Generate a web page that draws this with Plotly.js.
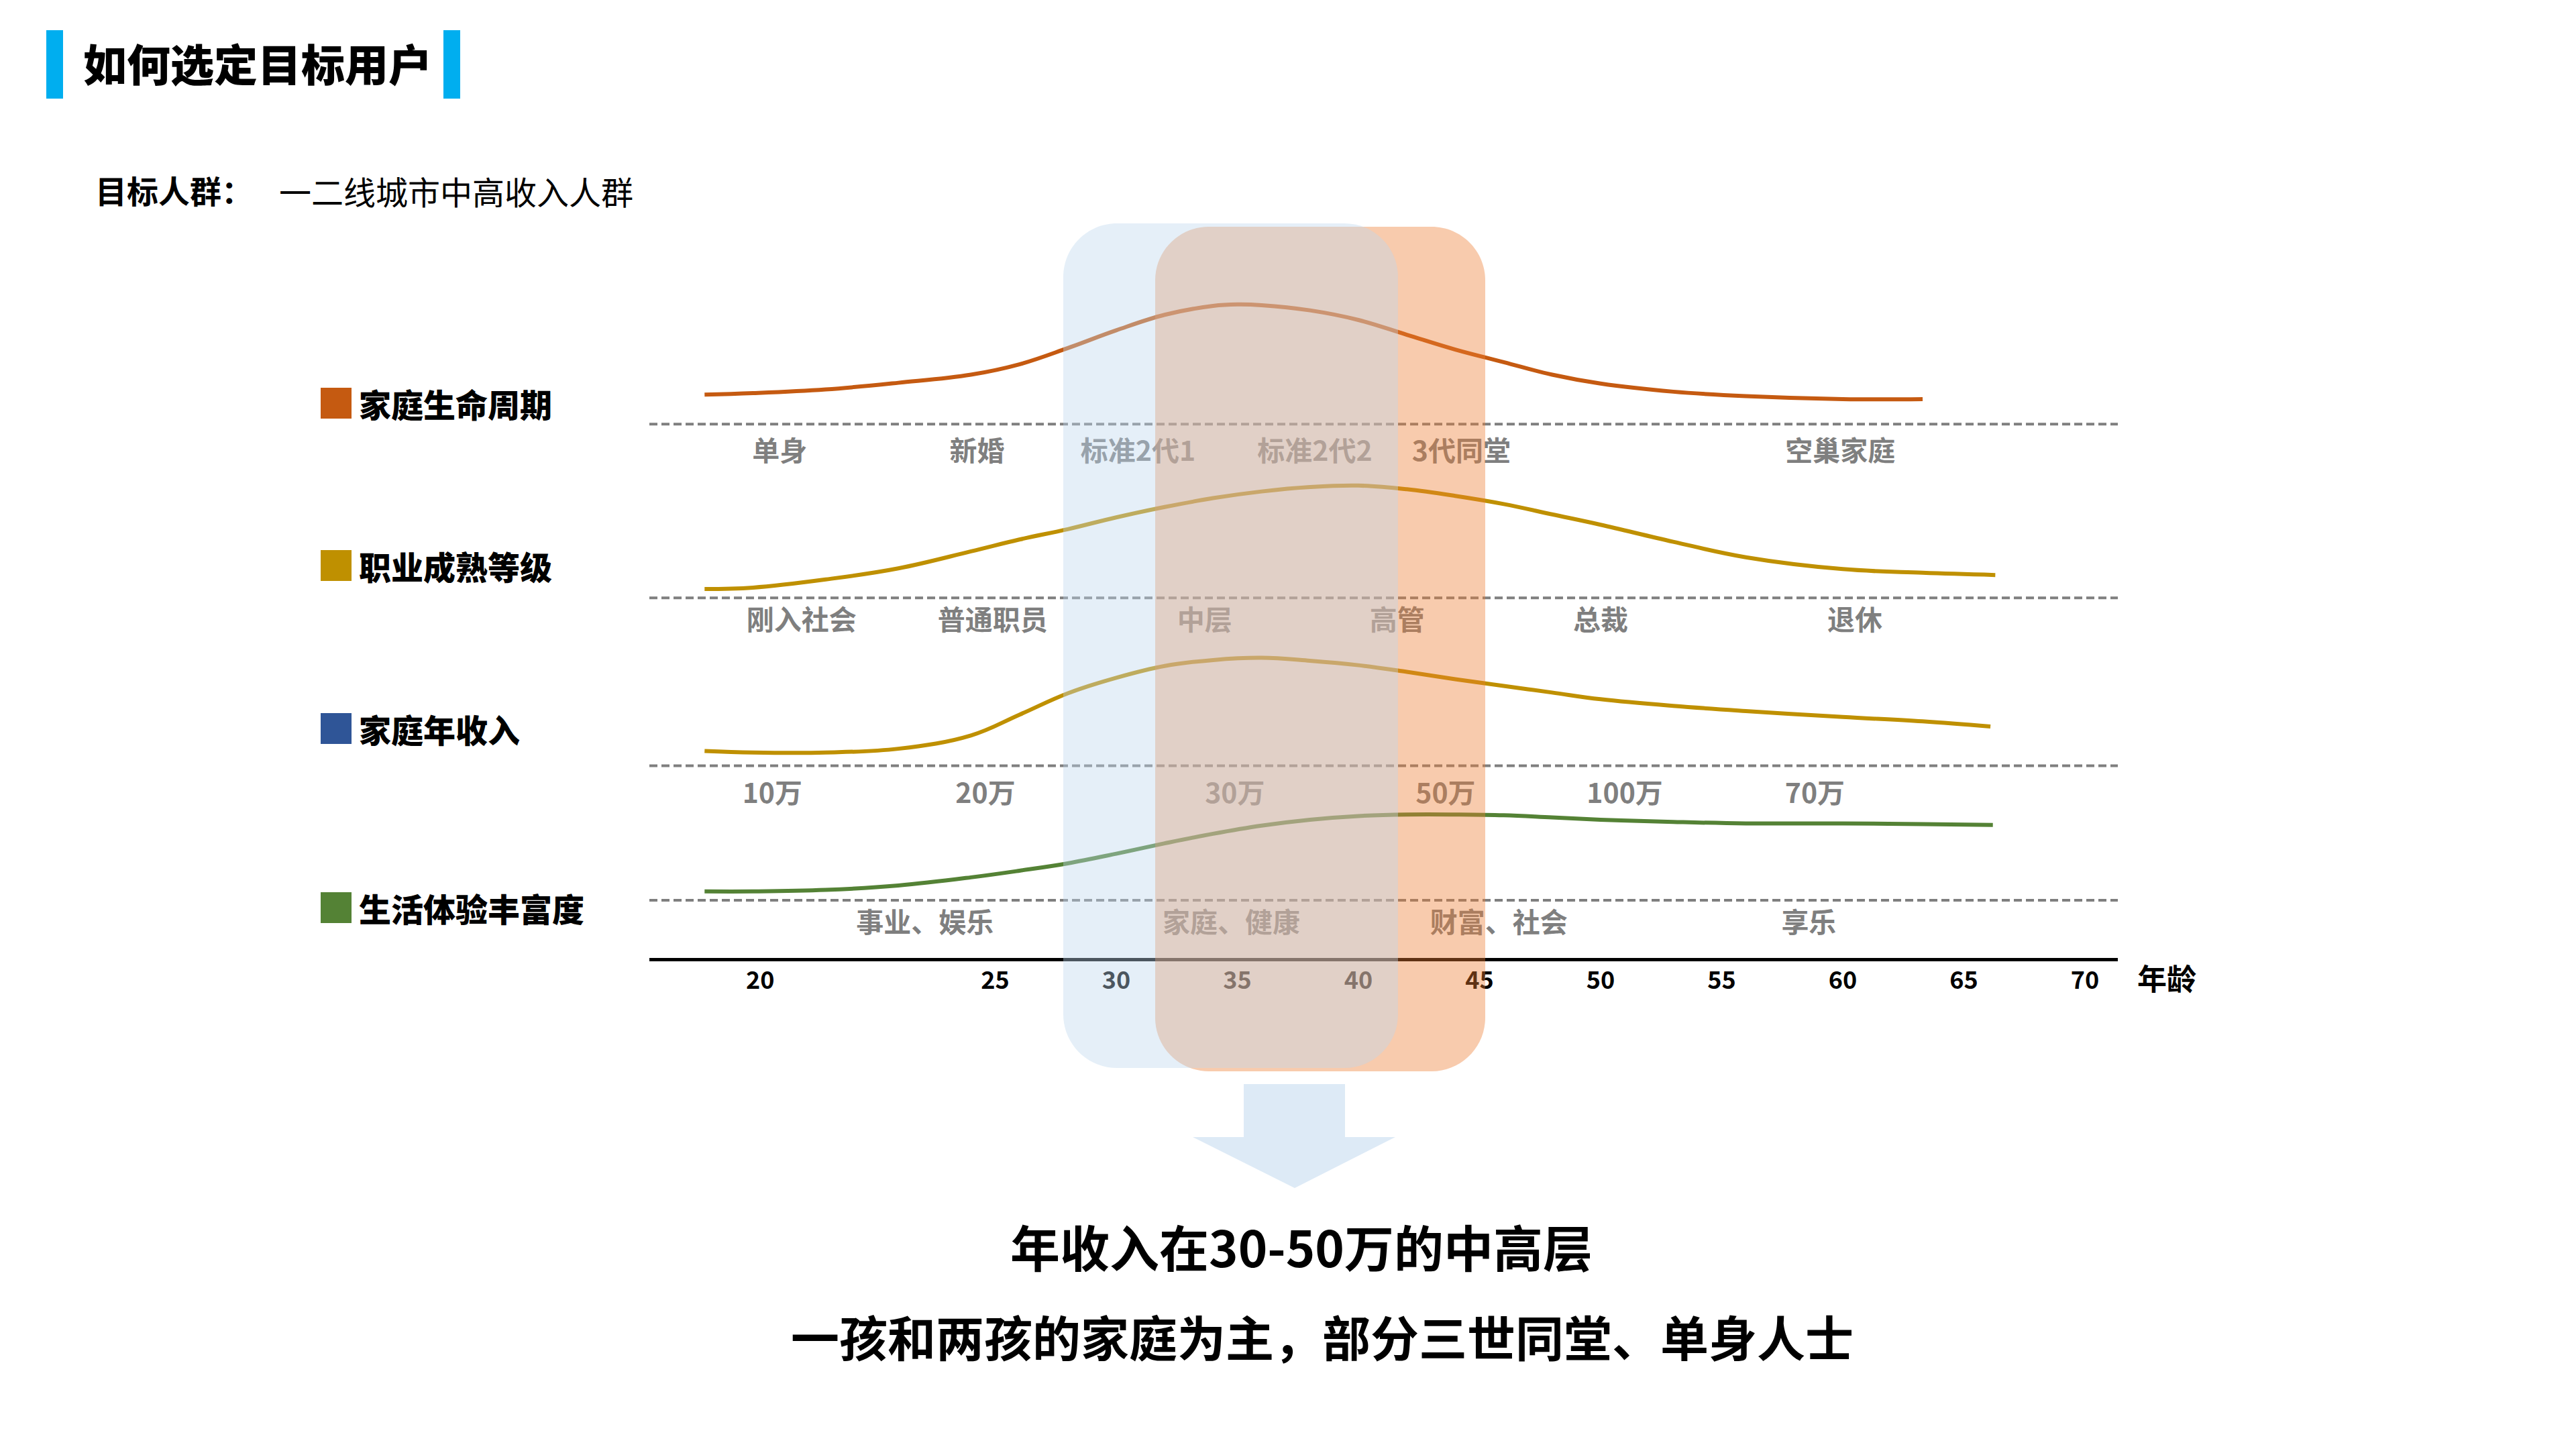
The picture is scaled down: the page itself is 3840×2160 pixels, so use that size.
<!DOCTYPE html>
<html>
<head>
<meta charset="utf-8">
<script src="https://cdn.plot.ly/plotly-3.0.1.min.js"></script>
<style>html,body{margin:0;padding:0;background:#fff;}#chart{width:3840px;height:2160px;}</style>
</head>
<body>
<div id="chart"></div>
<script>
// ---------------- data ----------------
const seriesNames = ['家庭生命周期', '职业成熟等级', '家庭年收入', '生活体验丰富度'];

const lifeCycleAge = [13,15,18,21,24,26,28,30,32,34,35,36,38,40,42,44,46,48,50,53,56,60,63.3];
const lifeCycleVal = [76.2,76.4,76.9,77.8,78.9,80.3,82.5,84.9,87.0,88.2,88.4,88.3,87.6,86.3,84.3,82.3,80.6,78.9,77.7,76.6,76.0,75.6,75.6];

const careerAge = [13,15,18,21,24,26,28,30,32,34,36,38,40,42,44,46,48,50,53,56,60,63.3,66.3];
const careerVal = [49.9,50.1,51.2,52.7,55.0,56.6,58.0,59.6,61.0,62.2,63.1,63.7,63.9,63.4,62.5,61.4,60.0,58.6,56.3,54.2,52.6,52.1,51.8];

const incomeAge = [13,15,18,21,24,26,28,30,32,34,36,38,40,42,44,46,48,50,53,56,60,63.3,66.1];
const incomeVal = [28.0,27.8,27.8,28.3,30.1,32.9,35.8,37.9,39.5,40.3,40.6,40.2,39.6,38.7,37.7,36.8,35.9,35.0,34.1,33.4,32.6,32.0,31.3];

const experienceAge = [13,15,18,21,24,26,28,30,32,34,36,38,40,42,44,46,48,50,53,56,60,63.3,66.2];
const experienceVal = [9.0,9.0,9.2,9.8,10.9,11.8,12.8,14.1,15.5,16.8,17.9,18.7,19.2,19.4,19.4,19.3,19.0,18.7,18.4,18.2,18.2,18.1,18.0];

// stage labels along the age axis
const lifeStageLabels = ['单身','新婚','标准2代1','标准2代2','3代同堂','空巢家庭'];
const lifeStageAge    = [16.1, 24.25, 30.9, 38.2, 44.25, 59.9];
const careerLabels    = ['刚入社会','普通职员','中层','高管','总裁','退休'];
const careerLabelAge  = [17.0, 24.9, 33.65, 41.6, 50.0, 60.5];
const incomeLabels    = ['10万','20万','30万','50万','100万','70万'];
const incomeLabelAge  = [15.8, 24.6, 34.9, 43.6, 51.0, 58.85];
const experienceLabels   = ['事业、娱乐','家庭、健康','财富、社会','享乐'];
const experienceLabelAge = [22.1, 34.75, 45.8, 58.6];
const rowLevels = [68.2, 45.3, 21.9, 4.4];       // label rows
const separatorLevels = [72.2, 48.7, 26.0, 7.8];   // dashed separators

// x axis ticks
const tickPositions = [15.3, 25, 30, 35, 40, 45, 50, 55, 60, 65, 70];
const tickLabels    = ['20','25','30','35','40','45','50','55','60','65','70'];

// ---------------- layout helpers ----------------
const W = 3840, H = 2160, ML = 968, MR = 683, MT = 326, MB = 732;
const PW = W - ML - MR, PH = H - MT - MB;
const px = x => (x - ML) / PW;
const py = y => (H - MB - y) / PH;
const FONT = '"Noto Sans CJK SC", "Noto Sans", sans-serif';

function roundRect(x0, y0, x1, y1, r) {
  const k = 0.5523 * r;
  const P = (x, y) => px(x).toFixed(5) + ',' + py(y).toFixed(5);
  return 'M' + P(x0 + r, y0) + ' L' + P(x1 - r, y0) +
    ' C' + P(x1 - r + k, y0) + ' ' + P(x1, y0 + r - k) + ' ' + P(x1, y0 + r) +
    ' L' + P(x1, y1 - r) +
    ' C' + P(x1, y1 - r + k) + ' ' + P(x1 - r + k, y1) + ' ' + P(x1 - r, y1) +
    ' L' + P(x0 + r, y1) +
    ' C' + P(x0 + r - k, y1) + ' ' + P(x0, y1 - r + k) + ' ' + P(x0, y1 - r) +
    ' L' + P(x0, y0 + r) +
    ' C' + P(x0, y0 + r - k) + ' ' + P(x0 + r - k, y0) + ' ' + P(x0 + r, y0) + ' Z';
}
function polyPath(pts) {
  return pts.map((p, i) => (i ? 'L' : 'M') + px(p[0]).toFixed(5) + ',' + py(p[1]).toFixed(5)).join(' ') + ' Z';
}

// ---------------- traces ----------------
const lineColors = ['#c55a11', '#bf9000', '#bf9000', '#548235'];
const squareColors = ['#c55a11', '#bf9000', '#2f5597', '#548235'];
const seriesX = [lifeCycleAge, careerAge, incomeAge, experienceAge];
const seriesY = [lifeCycleVal, careerVal, incomeVal, experienceVal];

const traces = seriesX.map((xs, i) => ({
  type: 'scatter', mode: 'lines', name: seriesNames[i],
  x: xs, y: seriesY[i],
  line: {color: lineColors[i], width: 6, shape: 'spline', smoothing: 1.1},
  hoverinfo: 'skip', showlegend: false
}));

const labelSets = [
  [lifeStageAge, lifeStageLabels],
  [careerLabelAge, careerLabels],
  [incomeLabelAge, incomeLabels],
  [experienceLabelAge, experienceLabels]
];
labelSets.forEach((s, i) => {
  traces.push({
    type: 'scatter', mode: 'text',
    x: s[0], y: s[0].map(() => rowLevels[i]), text: s[1],
    textposition: 'middle center',
    textfont: {family: FONT, size: 41, color: '#7f7f7f', weight: 'bold'},
    hoverinfo: 'skip', showlegend: false
  });
});

// ---------------- shapes ----------------
const shapes = [];
separatorLevels.forEach(v => shapes.push({
  type: 'line', xref: 'paper', yref: 'y', x0: 0, x1: 1, y0: v, y1: v,
  line: {color: '#7f7f7f', width: 4, dash: '12px,6px'}, layer: 'below'
}));
// highlight boxes (orange under, blue over)
shapes.push({type: 'path', xref: 'paper', yref: 'paper', path: roundRect(1722, 338, 2214, 1597, 80),
  fillcolor: 'rgba(237,125,49,0.4)', line: {width: 0}, layer: 'above'});
shapes.push({type: 'path', xref: 'paper', yref: 'paper', path: roundRect(1585, 333, 2084, 1592, 80),
  fillcolor: 'rgba(189,215,238,0.4)', line: {width: 0}, layer: 'above'});
// down arrow
shapes.push({type: 'path', xref: 'paper', yref: 'paper',
  path: polyPath([[1854,1616],[2005,1616],[2005,1695],[2080,1695],[1930,1771],[1778,1695],[1854,1695]]),
  fillcolor: '#ddeaf6', line: {width: 0}, layer: 'above'});
// title bars
[[69, 94], [661, 686]].forEach(b => shapes.push({
  type: 'rect', xref: 'paper', yref: 'paper', x0: px(b[0]), x1: px(b[1]), y0: py(147), y1: py(45),
  fillcolor: '#00aeef', line: {width: 0}
}));
// legend squares
const legendY = [601, 843, 1086, 1353];
legendY.forEach((y, i) => shapes.push({
  type: 'rect', xref: 'paper', yref: 'paper', x0: px(478), x1: px(524), y0: py(y + 23), y1: py(y - 23),
  fillcolor: squareColors[i], line: {width: 0}
}));

// ---------------- annotations ----------------
const annotations = [];
legendY.forEach((y, i) => annotations.push({
  xref: 'paper', yref: 'paper', x: px(533), y: py(y), xanchor: 'left', yanchor: 'middle',
  text: seriesNames[i], showarrow: false,
  font: {family: FONT, size: 48, color: '#000', weight: 900}
}));
annotations.push({xref: 'paper', yref: 'paper', x: px(140), y: py(282), xanchor: 'left', yanchor: 'middle',
  text: '目标人群：', showarrow: false, font: {family: FONT, size: 47, color: '#000', weight: 'bold'}});
annotations.push({xref: 'paper', yref: 'paper', x: px(414), y: py(284), xanchor: 'left', yanchor: 'middle',
  text: '一二线城市中高收入人群', showarrow: false, font: {family: FONT, size: 48, color: '#000'}});
annotations.push({xref: 'paper', yref: 'paper', x: px(3184), y: py(1457), xanchor: 'left', yanchor: 'middle',
  text: '年龄', showarrow: false, font: {family: FONT, size: 44, color: '#000', weight: 'bold'}});
annotations.push({xref: 'paper', yref: 'paper', x: px(1940), y: py(1856), xanchor: 'center', yanchor: 'middle',
  text: '年收入在30-50万的中高层', showarrow: false, font: {family: FONT, size: 74, color: '#000', weight: 'bold'}});
annotations.push({xref: 'paper', yref: 'paper', x: px(1971), y: py(1991), xanchor: 'center', yanchor: 'middle',
  text: '一孩和两孩的家庭为主，部分三世同堂、单身人士', showarrow: false, font: {family: FONT, size: 72, color: '#000', weight: 'bold'}});

const layout = {
  width: W, height: H,
  margin: {l: ML, r: MR, t: MT, b: MB, pad: 0},
  paper_bgcolor: '#fff', plot_bgcolor: 'rgba(0,0,0,0)',
  showlegend: false,
  title: {
    text: '如何选定目标用户', xref: 'container', yref: 'container',
    x: 124 / W, xanchor: 'left', y: 1 - 98 / H, yanchor: 'middle',
    font: {family: FONT, size: 65, color: '#000', weight: 900}
  },
  xaxis: {
    range: [10.72, 71.36], showgrid: false, zeroline: false,
    showline: true, linecolor: '#000', linewidth: 5,
    tickmode: 'array', tickvals: tickPositions, ticktext: tickLabels,
    ticks: '', ticklabelstandoff: -2,
    tickfont: {family: FONT, size: 36, color: '#000', weight: 'bold'},
    fixedrange: true
  },
  yaxis: {range: [0, 100], visible: false, fixedrange: true},
  shapes: shapes,
  annotations: annotations
};

Plotly.newPlot('chart', traces, layout, {displayModeBar: false, staticPlot: true});
</script>
</body>
</html>
